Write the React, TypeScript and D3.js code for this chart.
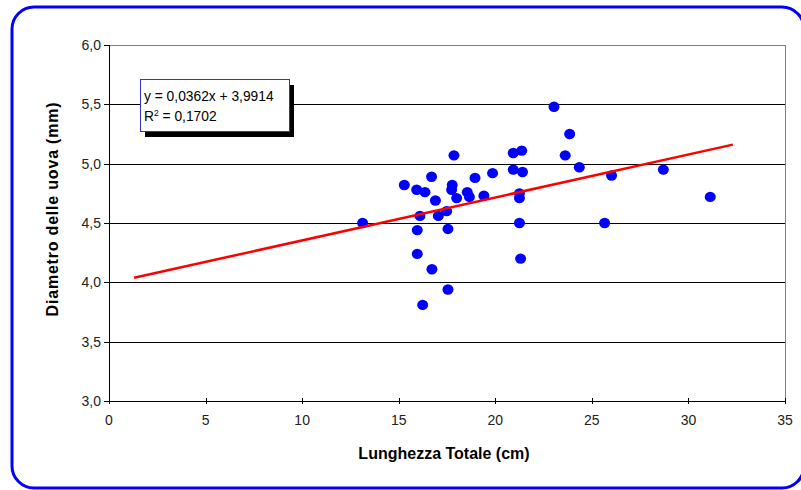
import React from "react";
import * as d3 from "d3";

const lunghezza = [13.13, 15.29, 15.93, 16.36, 16.1, 15.96, 15.96, 16.24, 16.72, 16.7, 16.9, 17.05, 17.48, 17.55, 17.55, 17.77, 17.74, 17.86, 18.0, 18.55, 18.66, 18.95, 19.41, 19.86, 20.93, 21.37, 20.93, 21.41, 21.25, 21.25, 21.25, 21.31, 23.04, 23.85, 23.62, 24.35, 26.02, 25.66, 28.7, 31.13];
const diametro = [4.5, 4.82, 4.78, 4.76, 4.56, 4.44, 4.24, 3.81, 4.11, 4.89, 4.69, 4.56, 4.6, 4.45, 3.94, 4.82, 4.78, 5.07, 4.71, 4.76, 4.72, 4.88, 4.73, 4.92, 5.09, 5.11, 4.95, 4.93, 4.75, 4.71, 4.5, 4.2, 5.48, 5.25, 5.07, 4.97, 4.9, 4.5, 4.95, 4.72];
const xTicks = [0, 5, 10, 15, 20, 25, 30, 35];
const yTicks = [3.0, 3.5, 4.0, 4.5, 5.0, 5.5, 6.0];
const trendCoef = { slope: 0.0362, intercept: 3.9914 };
const trendRange = [1.3, 32.3];
const equationLines = ["y = 0,0362x + 3,9914", "R", " = 0,1702"];

export default function App() {
  const W = 801, H = 490;
  const x = d3.scaleLinear().domain([0, 35]).range([109, 785]);
  const y = d3.scaleLinear().domain([3, 6]).range([401, 45]);
  const fmtY = (v: number) => v.toFixed(1).replace(".", ",");
  const font = "'Liberation Sans', Arial, sans-serif";
  const line = d3.line<number>().x((d) => x(d)).y((d) => y(trendCoef.slope * d + trendCoef.intercept));
  return (
    <svg width={W} height={H} style={{ position: "absolute", left: 0, top: 0, background: "#fff" }} fontFamily={font}>
      <rect x={12} y={7} width={792} height={481} rx={22} ry={22} fill="#fff" stroke="#0000ff" strokeWidth={3} />
      {yTicks.filter((t) => t > 3).map((t) => (
        <line key={"g" + t} x1={x(0)} x2={x(35)} y1={Math.round(y(t)) + 0.5} y2={Math.round(y(t)) + 0.5} stroke={t === 6 ? "#808080" : "#000"} strokeWidth={1} />
      ))}
      <line x1={x(35) + 0.5} x2={x(35) + 0.5} y1={y(6)} y2={y(3)} stroke="#808080" />
      <line x1={x(0) + 0.5} x2={x(0) + 0.5} y1={y(6)} y2={y(3)} stroke="#000" />
      <line x1={x(0)} x2={x(35)} y1={Math.round(y(3)) + 0.5} y2={Math.round(y(3)) + 0.5} stroke="#000" />
      {yTicks.map((t) => (
        <g key={"yt" + t}>
          <line x1={x(0) - 5} x2={x(0)} y1={Math.round(y(t)) + 0.5} y2={Math.round(y(t)) + 0.5} stroke="#000" />
          <text x={101} y={y(t) + 5} textAnchor="end" fontSize={14} fill="#222">{fmtY(t)}</text>
        </g>
      ))}
      {xTicks.map((t) => (
        <g key={"xt" + t}>
          <line x1={Math.round(x(t)) + 0.5} x2={Math.round(x(t)) + 0.5} y1={y(3) - 3} y2={y(3) + 3} stroke="#000" />
          <text x={x(t)} y={425} textAnchor="middle" fontSize={14} fill="#222">{t}</text>
        </g>
      ))}
      {lunghezza.map((lx, i) => (
        <ellipse key={"p" + i} cx={x(lx)} cy={y(diametro[i])} rx={5.5} ry={5.2} fill="#0000ff" />
      ))}
      <path d={line(trendRange) || ""} stroke="#ff0000" strokeWidth={2.5} fill="none" />
      <rect x={145} y={85} width={149} height={52} fill="#000" />
      <rect x={140.5} y={79.5} width={149} height={52} fill="#fff" stroke="#3333cc" strokeWidth={1} />
      <text x={144} y={101} fontSize={13.8} fill="#000">{equationLines[0]}</text>
      <text x={144} y={121} fontSize={13.8} fill="#000">
        {equationLines[1]}
        <tspan fontSize={8.5} dy={-5}>2</tspan>
        <tspan dy={5}>{equationLines[2]}</tspan>
      </text>
      <text x={444} y={459} textAnchor="middle" fontSize={16} fontWeight="bold" fill="#000">Lunghezza Totale (cm)</text>
      <text transform={`translate(58,209) rotate(-90)`} textAnchor="middle" fontSize={16} fontWeight="bold" letterSpacing={0.8} fill="#000">Diametro delle uova (mm)</text>
    </svg>
  );
}
